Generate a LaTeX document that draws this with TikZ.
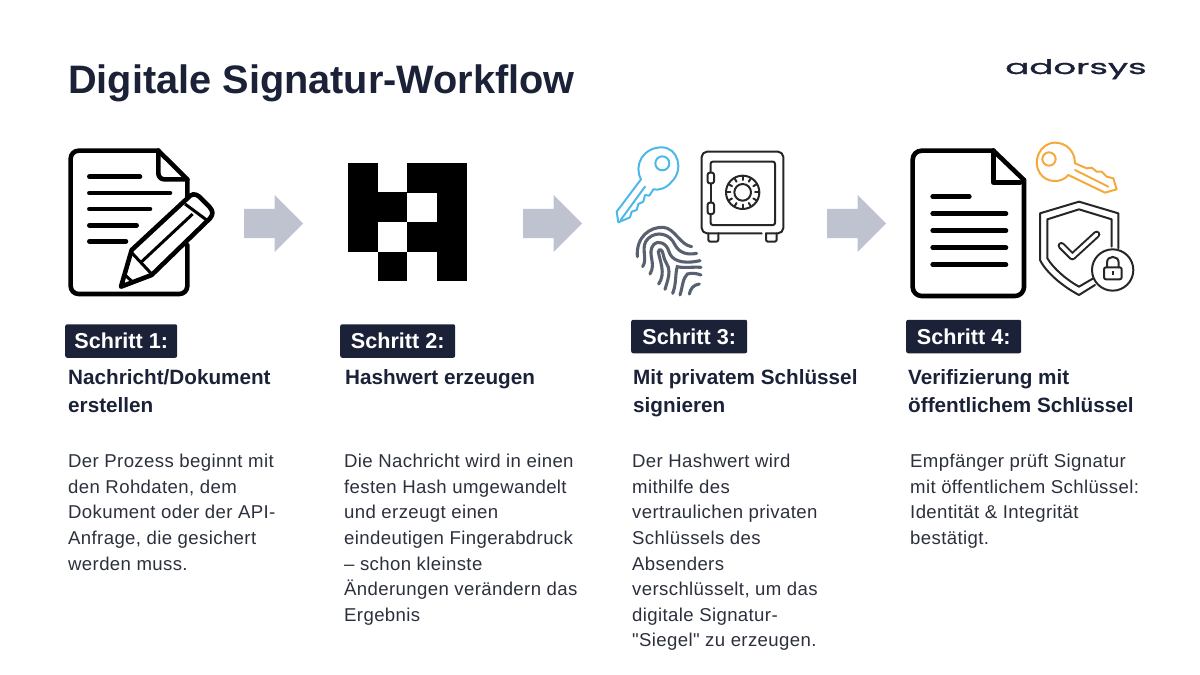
\documentclass[tikz,border=0pt]{standalone}
\usepackage{fontspec}
\setmainfont{Liberation Sans}[Ligatures=TeXOff]
\newfontfamily\logofont{Poppins}[FakeBold=1]
\usetikzlibrary{positioning,shapes.arrows}
\definecolor{navy}{HTML}{1B2238}
\definecolor{bodyink}{HTML}{2B303C}
\definecolor{arrowgray}{HTML}{BFC3D0}
\definecolor{keyblue}{HTML}{4DB8E8}
\definecolor{keyorange}{HTML}{F5A93A}
\definecolor{printgray}{HTML}{596170}
\definecolor{iconink}{HTML}{262626}
\tikzset{
  stepbadge/.style={fill=navy,text=white,rounded corners=2pt,inner sep=0pt,minimum height=33.5pt,font=\fontsize{21.6}{24}\selectfont\bfseries,anchor=west},
  steptitle/.style={inner sep=0pt,align=left,text=navy,font=\fontsize{20.7}{28}\selectfont\bfseries,anchor=north west},
  stepbody/.style={inner sep=0pt,align=left,text=bodyink,font=\addfontfeature{LetterSpace=2}\fontsize{18.6}{25.6}\selectfont,anchor=north west},
  blockarrow/.style={single arrow,fill=arrowgray,inner sep=0pt,text height=29pt,text depth=0pt,minimum height=59pt,single arrow head extend=14pt,single arrow head indent=0pt,anchor=west},
  docline/.style={line width=4.6pt,line join=round,line cap=round},
  thinicon/.style={line width=2pt,line join=round,line cap=round,color=iconink},
  printline/.style={line width=3.1pt,line cap=round,color=printgray}
}
\begin{document}
\begin{tikzpicture}[x=1pt,y=-1pt]
\useasboundingbox (0,0) rectangle (1200,675);

\node[anchor=base west,inner sep=0pt,text=navy,font=\fontsize{39.7}{40}\selectfont\bfseries] (main-title) at (68,93) {Digitale Signatur-Workflow};
\node[anchor=base east,inner sep=0pt,text=navy,xscale=1.78,font=\fontsize{20}{30}\selectfont\logofont] (logo) at (1147,74) {adorsys};

% step 1
\node[stepbadge,minimum width=112pt] (badge-1) at (65,341) {Schritt 1:};
\node[steptitle,below=11pt of badge-1.south west,anchor=north west,xshift=3pt] (title-1) {Nachricht/Dokument\\erstellen};
\node[stepbody] (body-1) at (68,454) {Der Prozess beginnt mit\\den Rohdaten, dem\\Dokument oder der API-\\Anfrage, die gesichert\\werden muss.};

% step 2
\node[stepbadge,minimum width=115pt] (badge-2) at (340,341) {Schritt 2:};
\node[steptitle,below=11pt of badge-2.south west,anchor=north west,xshift=5pt] (title-2) {Hashwert erzeugen};
\node[stepbody] (body-2) at (344,454) {Die Nachricht wird in einen\\festen Hash umgewandelt\\und erzeugt einen\\eindeutigen Fingerabdruck\\– schon kleinste\\Änderungen verändern das\\Ergebnis};

% step 3
\node[stepbadge,minimum width=116pt] (badge-3) at (631,336.5) {Schritt 3:};
\node[steptitle,below=16pt of badge-3.south west,anchor=north west,xshift=2pt] (title-3) {Mit privatem Schlüssel\\signieren};
\node[stepbody] (body-3) at (632,454) {Der Hashwert wird\\mithilfe des\\vertraulichen privaten\\Schlüssels des\\Absenders\\verschlüsselt, um das\\digitale Signatur-\\"Siegel" zu erzeugen.};

% step 4
\node[stepbadge,minimum width=115pt] (badge-4) at (906,336.5) {Schritt 4:};
\node[steptitle,below=16pt of badge-4.south west,anchor=north west,xshift=2pt] (title-4) {Verifizierung mit\\öffentlichem Schlüssel};
\node[stepbody] (body-4) at (910,454) {Empfänger prüft Signatur\\mit öffentlichem Schlüssel:\\Identität \& Integrität\\bestätigt.};

% arrows
\node[blockarrow] (arrow-1) at (244,223.5) {};
\node[blockarrow] (arrow-2) at (523,223.5) {};
\node[blockarrow] (arrow-3) at (827,223.5) {};

% document with pencil
\begin{scope}[shift={(50,130)},scale=1/3]
\draw[docline,rounded corners=8pt] (412,345) -- (412,492) -- (62,492) -- (62,62) -- (325,62);
\draw[docline] (325,62) -- (412,148) -- (412,205);
\draw[docline,rounded corners=6pt] (325,62) -- (325,148) -- (412,148);
\draw[docline] (118,140) -- (270,140);
\draw[docline] (118,189) -- (360,189);
\draw[docline] (118,237) -- (300,237);
\draw[docline] (118,286) -- (260,286);
\draw[docline] (118,334) -- (228,334);
\draw[docline] (213,470) -- (245,360) -- (412,205) .. controls (425,190) and (435,190) .. (448,200) -- (478,230) .. controls (490,245) and (490,252) .. (480,265) -- (305,435) -- cycle;
\draw[line width=3pt] (245,368) -- (305,432);
\draw[line width=3pt] (275,395) -- (428,252);
\draw[line width=3pt] (405,222) -- (470,270);
\draw[line width=3pt] (224,434) -- (250,458);
\end{scope}

% hash grid
\foreach \col/\row in {0/0,2/0,3/0,0/1,1/1,3/1,0/2,2/2,3/2,1/3,3/3}
  \fill (348+29.6*\col,162.7+29.6*\row) rectangle ++(29.8,29.8);

% blue key
\begin{scope}[shift={(600,130)},scale=1/3]
\draw[thinicon,color=keyblue] (123,148) .. controls (100,105) and (130,52) .. (185,52) .. controls (235,52) and (252,120) .. (215,155) .. controls (200,175) and (175,182) .. (160,178) -- (148,197) -- (135,195) -- (130,215) -- (115,222) -- (110,240) -- (95,245) -- (90,262) -- (55,277) -- (50,245) -- cycle;
\draw[thinicon,color=keyblue] (187,100) circle[radius=21];
\draw[thinicon,color=keyblue] (135,170) -- (62,270);

% safe
\draw[thinicon,rounded corners=2pt] (485,310) -- (315,310) -- (305,300) -- (305,75) -- (315,65) -- (540,65) -- (550,75) -- (550,300) -- (540,310) -- (498,310);
\draw[thinicon,rounded corners=2pt] (332,128) -- (332,95) -- (525,95) -- (525,285) -- (332,285) -- (332,252);
\draw[thinicon] (332,160) -- (332,218);
\draw[thinicon,rounded corners=2pt] (323,128) rectangle (342,160);
\draw[thinicon,rounded corners=2pt] (323,218) rectangle (342,252);
\draw[thinicon,rounded corners=2pt] (325,310) -- (325,335) -- (355,335) -- (355,310);
\draw[thinicon,rounded corners=2pt] (498,310) -- (498,335) -- (530,335) -- (530,310);
\draw[thinicon] (428,187) circle[radius=50];
\draw[thinicon] (428,187) circle[radius=25];
\foreach \ang in {0,30,...,330}
  \draw[thinicon] ([shift={(\ang:37)}]428,187) -- ([shift={(\ang:49)}]428,187);

% fingerprint
\draw[printline] (112,380) .. controls (108,320) and (150,290) .. (190,292) .. controls (225,295) and (240,345) .. (275,350);
\draw[printline] (128,410) .. controls (145,385) and (118,350) .. (145,325) .. controls (170,302) and (210,310) .. (225,345) .. controls (238,368) and (260,376) .. (290,370);
\draw[printline] (150,432) .. controls (170,400) and (140,370) .. (160,345) .. controls (175,328) and (200,340) .. (207,365) .. controls (214,388) and (240,405) .. (300,392);
\draw[printline] (176,462) .. controls (198,430) and (180,395) .. (175,365) .. controls (178,355) and (188,358) .. (190,375) .. controls (195,400) and (207,405) .. (207,425) .. controls (207,440) and (202,455) .. (195,478);
\draw[printline] (218,490) .. controls (230,460) and (225,430) .. (232,410) .. controls (250,415) and (280,410) .. (303,412);
\draw[printline] (240,495) .. controls (248,470) and (248,445) .. (262,432) .. controls (275,428) and (290,430) .. (303,435);
\draw[printline] (268,492) .. controls (272,475) and (280,465) .. (298,462);
\end{scope}

% document with orange key and shield
\begin{scope}[shift={(900,130)},scale=1/3]
\draw[docline,rounded corners=9pt] (280,62) -- (38,62) -- (38,498) -- (372,498) -- (372,150);
\draw[docline] (280,62) -- (372,150);
\draw[docline] (280,62) -- (280,158) -- (360,158);
\draw[docline] (98,200) -- (208,200);
\foreach \liney in {251,302,353,404}
  \draw[docline] (98,\liney) -- (318,\liney);

\draw[thinicon,color=keyorange] (505,135) .. controls (485,160) and (440,160) .. (420,130) .. controls (395,95) and (420,38) .. (465,38) .. controls (500,38) and (525,65) .. (525,100) -- (560,115) -- (575,113) -- (590,125) -- (605,125) -- (620,140) -- (640,145) -- (650,178) -- (615,188) -- cycle;
\draw[thinicon,color=keyorange] (447,87) circle[radius=20];
\draw[thinicon,color=keyorange] (525,120) -- (625,170);

\draw[thinicon] (655,355) -- (655,250) -- (537,215) -- (420,250) -- (420,390) .. controls (440,430) and (490,470) .. (537,495) -- (585,465);
\draw[thinicon] (635,350) -- (635,268) -- (537,238) -- (442,268) -- (442,385) .. controls (460,415) and (500,450) .. (537,470) -- (580,445);
\draw[line width=2pt,color=iconink,double=white,double distance=3.4pt,line cap=round,line join=round] (484,347) -- (517,380) -- (590,313);
\draw[thinicon,fill=white] (638,420) circle[radius=62];
\draw[thinicon,rounded corners=2pt] (612,412) rectangle (665,448);
\draw[thinicon] (621,412) -- (621,398) .. controls (621,375) and (656,375) .. (656,398) -- (656,412);
\draw[line width=2pt,color=iconink] (638,423) -- (638,434);
\end{scope}
\end{tikzpicture}
\end{document}
